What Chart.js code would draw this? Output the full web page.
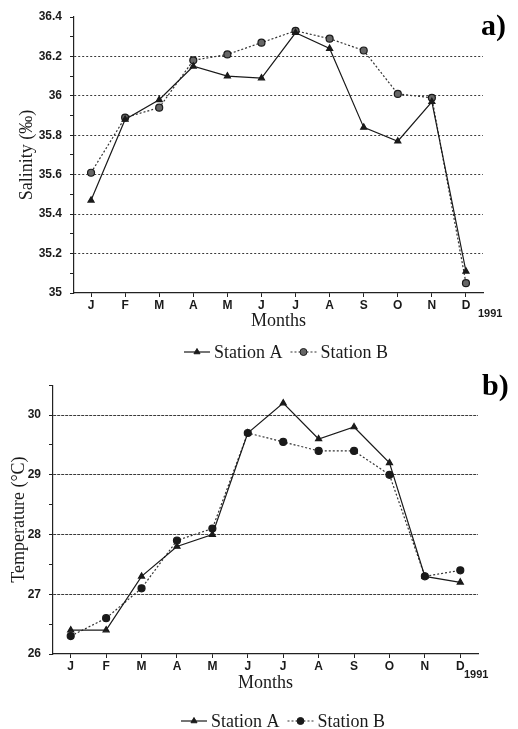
<!DOCTYPE html>
<html>
<head>
<meta charset="utf-8">
<script src="https://cdn.jsdelivr.net/npm/chart.js@4.4.0/dist/chart.umd.min.js"></script>
<style>
	html, body { margin: 0; padding: 0; background: #fff; }
	#wrap { position: relative; width: 518px; height: 729px; overflow: hidden; }
	#panelA { position: absolute; left: 0; top: 0; width: 518px; height: 370px; }
	#panelB { position: absolute; left: 0; top: 370px; width: 518px; height: 359px; }
</style>
</head>
<body>
<div id="wrap">
	<div id="panelA"><canvas id="salinity-chart"></canvas></div>
	<div id="panelB"><canvas id="temperature-chart"></canvas></div>
</div>
<script>
// Data
var months = ['J', 'F', 'M', 'A', 'M', 'J', 'J', 'A', 'S', 'O', 'N', 'D'];
var seriesNames = ['Station A', 'Station B'];

var salinityA = [35.47, 35.88, 35.98, 36.15, 36.10, 36.09, 36.32, 36.24, 35.84, 35.77, 35.97, 35.11];
var salinityB = [35.61, 35.89, 35.94, 36.18, 36.21, 36.27, 36.33, 36.29, 36.23, 36.01, 35.99, 35.05];
var salinityTicks = [35, 35.2, 35.4, 35.6, 35.8, 36, 36.2, 36.4];

var temperatureA = [26.4, 26.4, 27.3, 27.8, 28.0, 29.7, 30.2, 29.6, 29.8, 29.2, 27.3, 27.2];
var temperatureB = [26.3, 26.6, 27.1, 27.9, 28.1, 29.7, 29.55, 29.4, 29.4, 29.0, 27.3, 27.4];
var temperatureTicks = [26, 27, 28, 29, 30];

var ink = '#1a1a1a';
var serif = '"Liberation Serif", "Times New Roman", serif';
var sans = '"Liberation Sans", Arial, sans-serif';
var clear = 'rgba(0,0,0,0)';

/***************************************
	Legend + panel tag + year label
***************************************/

var panelExtras = {
	id: 'panelExtras',
	afterDraw: function(chart, args, opts) {
		var ctx = chart.ctx;
		ctx.save();

		// legend under the plot
		ctx.font = '18px ' + serif;
		ctx.textBaseline = 'middle';
		ctx.textAlign = 'left';
		var sample = 26, gap = 4, between = 8;
		var widths = seriesNames.map(function(n) { return ctx.measureText(n).width; });
		var total = 2 * (sample + gap) + widths[0] + between + widths[1];
		var x = opts.legendX - total / 2;
		var y = opts.legendY;

		chart.data.datasets.forEach(function(ds, i) {
			ctx.strokeStyle = ds.borderColor;
			ctx.lineWidth = ds.borderWidth;
			ctx.setLineDash(ds.borderDash || []);
			ctx.beginPath();
			ctx.moveTo(x, y);
			ctx.lineTo(x + sample, y);
			ctx.stroke();
			ctx.setLineDash([]);

			ctx.fillStyle = ds.pointBackgroundColor;
			ctx.strokeStyle = ds.pointBorderColor;
			ctx.lineWidth = 1;
			Chart.helpers.drawPoint(ctx, {pointStyle: ds.pointStyle, radius: ds.pointRadius, borderWidth: 1}, x + sample / 2, y);

			ctx.fillStyle = ink;
			ctx.fillText(seriesNames[i], x + sample + gap, y + 1);
			x += sample + gap + widths[i] + between;
		});

		// "a)" / "b)"
		ctx.font = 'bold 30px ' + serif;
		ctx.textBaseline = 'alphabetic';
		ctx.fillStyle = '#000';
		ctx.fillText(opts.tag, opts.tagX, opts.tagY);

		// year next to the last month
		ctx.font = 'bold 11px ' + sans;
		ctx.textBaseline = 'middle';
		ctx.fillStyle = ink;
		ctx.fillText('1991', opts.yearX, opts.yearY);

		ctx.restore();
	}
};

function isLabelled(value, list) {
	return list.some(function(t) { return Math.abs(t - value) < 1e-6; });
}

function stationSets(a, b, bFill) {
	return [{
		label: seriesNames[0],
		data: a,
		borderColor: ink,
		borderWidth: 1.2,
		borderDash: [],
		pointStyle: 'triangle',
		pointRadius: 3.5,
		pointBackgroundColor: ink,
		pointBorderColor: ink,
		tension: 0
	}, {
		label: seriesNames[1],
		data: b,
		borderColor: '#333',
		borderWidth: 1.2,
		borderDash: [2, 2],
		pointStyle: 'circle',
		pointRadius: 3.5,
		pointBackgroundColor: bFill,
		pointBorderColor: ink,
		tension: 0
	}];
}

function xAxis(height, titlePad) {
	return {
		type: 'category',
		offset: true,
		afterFit: function(scale) { scale.height = height; },
		border: {color: '#222', width: 1.2},
		grid: {offset: false, drawOnChartArea: false, tickLength: 4, color: '#222', lineWidth: 1, tickBorderDash: []},
		ticks: {color: ink, padding: 1, maxRotation: 0, font: {family: sans, size: 12, weight: 'bold'}},
		title: {display: true, text: 'Months', color: ink, font: {family: serif, size: 18}, padding: {top: 0, bottom: titlePad}}
	};
}

// y axis with minor ticks; only the listed values get a label and a grid line
function yAxis(min, max, step, labelled, width, title, titlePad, dash) {
	return {
		min: min,
		max: max,
		afterFit: function(scale) { scale.width = width; },
		border: {color: '#222', width: 1.2, dash: dash},
		grid: {
			tickLength: 4,
			lineWidth: 1,
			tickBorderDash: [],
			tickColor: '#222',
			color: function(c) {
				var v = c.tick.value;
				if (v <= min + 1e-6 || v >= max - 1e-6) return clear;
				return isLabelled(v, labelled) ? '#3a3a3a' : clear;
			}
		},
		ticks: {
			stepSize: step,
			padding: 8,
			color: ink,
			font: {family: sans, size: 12, weight: 'bold'},
			callback: function(v) {
				return isLabelled(v, labelled) ? String(Math.round(v * 10) / 10) : '';
			}
		},
		title: {display: true, text: title, color: ink, font: {family: serif, size: 18}, padding: {top: titlePad, bottom: 0}}
	};
}

/***************************************
			Salinity (a)
***************************************/

new Chart(document.getElementById('salinity-chart'), {
	type: 'line',
	data: {labels: months, datasets: stationSets(salinityA, salinityB, '#666')},
	plugins: [panelExtras],
	options: {
		responsive: true,
		maintainAspectRatio: false,
		animation: false,
		layout: {padding: {left: 0, right: 35, top: 17, bottom: 0}},
		plugins: {
			legend: {display: false},
			tooltip: {enabled: false},
			panelExtras: {legendX: 286, legendY: 352, tag: 'a)', tagX: 481, tagY: 35, yearX: 478, yearY: 314}
		},
		scales: {
			x: xAxis(77, 38),
			y: yAxis(35, 36.4, 0.1, salinityTicks, 74, 'Salinity (‰)', 16, [2, 2])
		}
	}
});

/***************************************
			Temperature (b)
***************************************/

new Chart(document.getElementById('temperature-chart'), {
	type: 'line',
	data: {labels: months, datasets: stationSets(temperatureA, temperatureB, ink)},
	plugins: [panelExtras],
	options: {
		responsive: true,
		maintainAspectRatio: false,
		animation: false,
		layout: {padding: {left: 0, right: 40, top: 7, bottom: 0}},
		plugins: {
			legend: {display: false},
			tooltip: {enabled: false},
			panelExtras: {legendX: 283, legendY: 351, tag: 'b)', tagX: 482, tagY: 25, yearX: 464, yearY: 305}
		},
		scales: {
			x: xAxis(75, 35),
			y: yAxis(26, 30.5, 0.5, temperatureTicks, 53, 'Temperature (°C)', 8, [3, 1])
		}
	}
});
</script>
</body>
</html>
